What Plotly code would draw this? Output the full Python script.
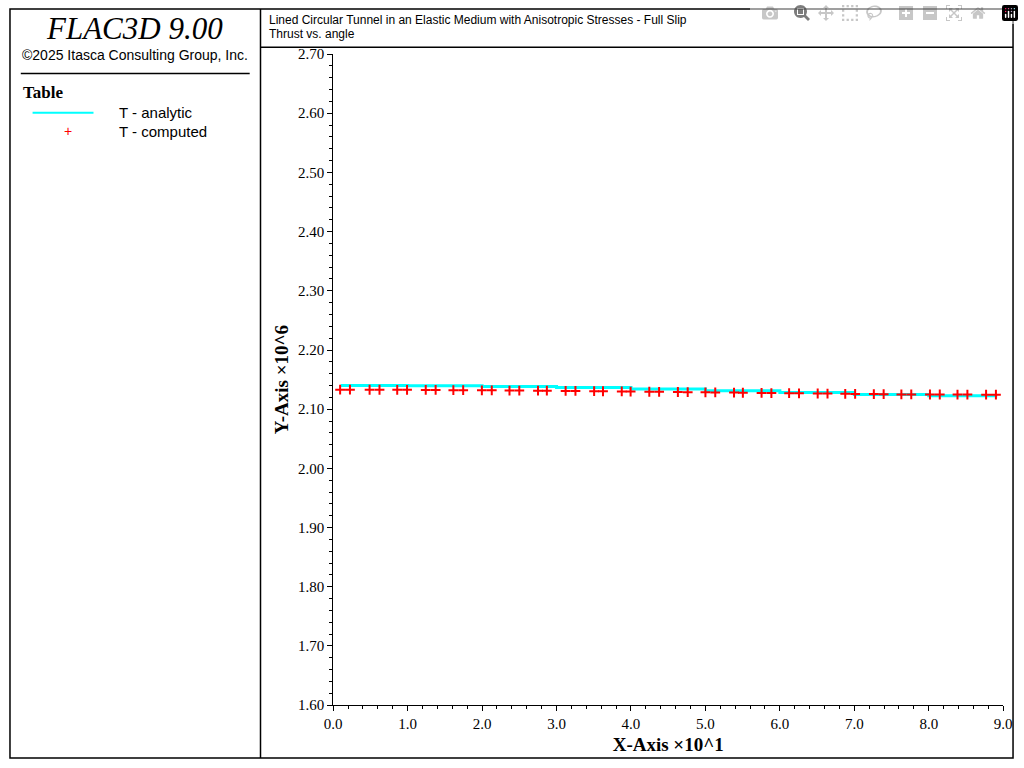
import plotly.graph_objects as go

angle_px = [337,347,367,377,395,405,424,434,452,462,481,491,509,519,538,547,566,576,595,604,623,632,651,661,680,690,708,718,737,746,765,775,793,803,822,832,850,860,879,889,907,917,936,946,964,974,993,1003]
angle = [round((p - 330) / 75.6 * 10, 2) for p in angle_px]
thrust_computed = [2.1330e6,2.1330e6,2.1328e6,2.1328e6,2.1327e6,2.1327e6,2.1325e6,2.1325e6,2.1322e6,2.1322e6,
                   2.1318e6,2.1318e6,2.1315e6,2.1315e6,2.1312e6,2.1312e6,2.1308e6,2.1308e6,2.1305e6,2.1303e6,
                   2.1300e6,2.1298e6,2.1295e6,2.1293e6,2.1290e6,2.1288e6,2.1285e6,2.1283e6,2.1280e6,2.1278e6,
                   2.1275e6,2.1273e6,2.1270e6,2.1268e6,2.1265e6,2.1263e6,2.1260e6,2.1258e6,2.1255e6,2.1253e6,
                   2.1250e6,2.1250e6,2.1248e6,2.1248e6,2.1247e6,2.1247e6,2.1246e6,2.1246e6]
angle_analytic = [1.0, 10.0, 20.0, 30.0, 40.0, 50.0, 60.0, 70.0, 80.0, 89.0]
thrust_analytic = [2.1400e6, 2.1397e6, 2.1385e6, 2.1365e6, 2.1340e6, 2.1310e6, 2.1280e6, 2.1250e6, 2.1225e6, 2.1200e6]

xticks = [i for i in range(10)]
xlabels = [f"{i:.1f}" for i in range(10)]
yticks = [1.6 + 0.1 * i for i in range(12)]
ylabels = [f"{v:.2f}" for v in yticks]

fig = go.Figure()
fig.add_trace(go.Scatter(x=[a / 10 for a in angle_analytic], y=[t / 1e6 for t in thrust_analytic],
                         mode="lines", line=dict(color="#00FFFF", width=3, shape="hv"), showlegend=False))
fig.add_trace(go.Scatter(x=[a / 10 for a in angle], y=[t / 1e6 for t in thrust_computed],
                         mode="markers", marker=dict(symbol="cross-thin", size=7, line=dict(color="red", width=2)),
                         showlegend=False))

W, H = 1024, 768
def px(x): return x / W
def py(y): return 1 - y / H

fig.update_layout(
    width=W, height=H, margin=dict(l=0, r=0, t=0, b=0),
    paper_bgcolor="white", plot_bgcolor="white",
    xaxis=dict(domain=[px(330), px(1012)], range=[0, 9.0], tickvals=xticks, ticktext=xlabels,
               showgrid=False, zeroline=False, showline=True, linecolor="black", linewidth=1,
               ticks="outside", ticklen=5, tickcolor="black",
               minor=dict(ticks="outside", ticklen=3, dtick=0.2, tickcolor="black"),
               tickfont=dict(family="Liberation Serif", size=15, color="black"),
               title=dict(text="<b>X-Axis ×10^1</b>", font=dict(family="Liberation Serif", size=19, color="black"), standoff=6)),
    yaxis=dict(domain=[py(712), py(47)], range=[1.6, 2.7], tickvals=yticks, ticktext=ylabels,
               showgrid=False, zeroline=False, showline=True, linecolor="black", linewidth=1,
               ticks="outside", ticklen=5, tickcolor="black",
               minor=dict(ticks="outside", ticklen=3, dtick=0.02, tickcolor="black"),
               tickfont=dict(family="Liberation Serif", size=15, color="black"),
               title=dict(text="<b>Y-Axis ×10^6</b>", font=dict(family="Liberation Serif", size=19, color="black"), standoff=4)),
)

shapes = [
    dict(type="rect", x0=px(1), x1=px(1022), y0=py(766), y1=py(1), line=dict(color="black", width=1.5)),
    dict(type="line", x0=px(256), x1=px(256), y0=py(766), y1=py(1), line=dict(color="black", width=1.5)),
    dict(type="line", x0=px(256), x1=px(1022), y0=py(40), y1=py(40), line=dict(color="black", width=1.5)),
    dict(type="line", x0=px(12), x1=px(245), y0=py(67), y1=py(67), line=dict(color="black", width=1.5)),
    dict(type="line", x0=px(24), x1=px(86), y0=py(107), y1=py(107), line=dict(color="#00FFFF", width=2)),
]
for s in shapes:
    s.update(xref="paper", yref="paper")
fig.update_layout(shapes=shapes)

def ann(x, y, text, size, family="Liberation Sans", xanchor="left"):
    fig.add_annotation(x=px(x), y=py(y), xref="paper", yref="paper", text=text, showarrow=False,
                       xanchor=xanchor, yanchor="middle", font=dict(family=family, size=size, color="black"))

ann(128, 21, "<i>FLAC3D 9.00</i>", 31, "Liberation Serif", "center")
ann(128, 48, "©2025 Itasca Consulting Group, Inc.", 14, "Liberation Sans", "center")
ann(12, 86, "<b>Table</b>", 17, "Liberation Serif")
ann(110, 107, "T - analytic", 15)
ann(110, 126, "T - computed", 15)
ann(263, 12, "Lined Circular Tunnel in an Elastic Medium with Anisotropic Stresses - Full Slip", 12)
ann(263, 27, "Thrust vs. angle", 12)
fig.add_annotation(x=px(54), y=py(126), xref="paper", yref="paper", text="+", showarrow=False,
                   yanchor="middle", font=dict(family="Liberation Sans", size=14, color="red"))

fig.write_html("out.html",
               post_script="document.body.style.margin='0';document.body.style.overflow='hidden';")
